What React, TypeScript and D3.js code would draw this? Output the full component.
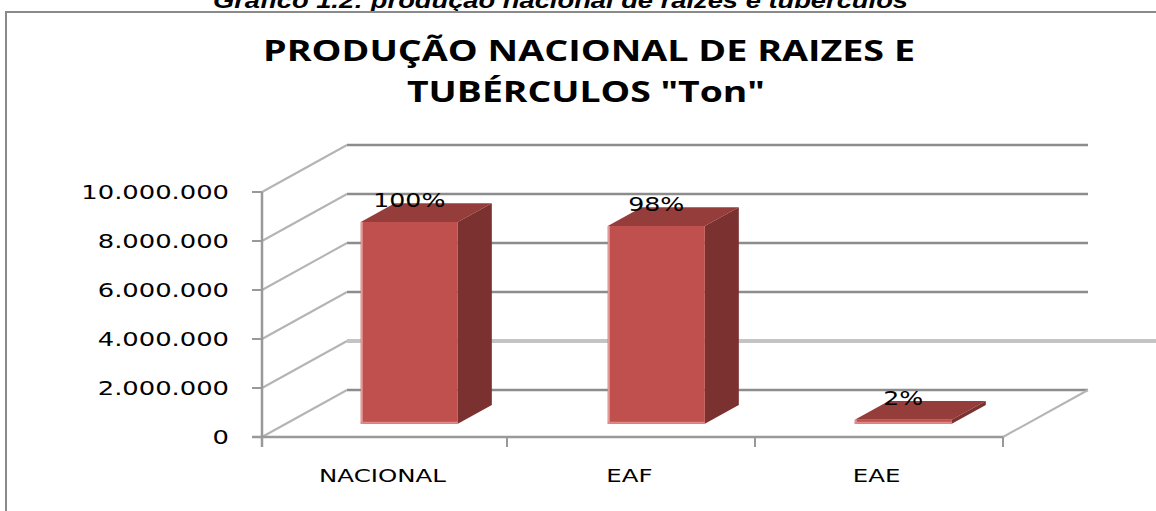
import * as d3 from 'd3';

const categories = ['NACIONAL', 'EAF', 'EAE'];
const values = [8240000, 8075000, 165000];
const percentLabels = ['100%', '98%', '2%'];
const yTicks = [0, 2000000, 4000000, 6000000, 8000000, 10000000];
const yTickLabels = ['0', '2.000.000', '4.000.000', '6.000.000', '8.000.000', '10.000.000'];

const W = 1156;
const H = 511;

// 3d depth of the plot floor and of the bars
const DX = 85;
const DY = -47;
const Z0 = 0.28;
const Z1 = 0.68;

export default function App() {
  const x = d3.scaleBand().domain(categories).range([262, 1003]).padding(0);
  const y = d3.scaleLinear().domain([0, 10000000]).range([437, 192]);
  const barW = x.bandwidth() * 0.393;

  const fx = Z0 * DX;
  const fy = Z0 * DY;
  const sdx = (Z1 - Z0) * DX;
  const sdy = (Z1 - Z0) * DY;

  const line = d3.line();

  return (
    <svg width={W} height={H} style={{ position: 'absolute', left: 0, top: 0 }}>
      <rect width={W} height={H} fill="#fff" />
      <text
        x={213}
        y={8}
        fontFamily="Liberation Sans, Arial, sans-serif"
        fontWeight="bold"
        fontStyle="italic"
        fontSize={22}
        textLength={695}
        lengthAdjust="spacingAndGlyphs"
      >
        Gráfico 1.2: produção nacional de raízes e tubérculos
      </text>
      <rect x={6} y={12} width={1300} height={700} fill="none" stroke="#8a8a8a" strokeWidth={2} />

      {/* title */}
      <g fontFamily="Open Sans, sans-serif" fontWeight="bold" fontSize={29} fill="#000">
        <text x={263} y={61} textLength={652} lengthAdjust="spacingAndGlyphs">
          PRODUÇÃO NACIONAL DE RAIZES E
        </text>
        <text x={407} y={102} textLength={358} lengthAdjust="spacingAndGlyphs">
          TUBÉRCULOS "Ton"
        </text>
      </g>

      {/* back wall gridlines and side wall diagonals */}
      {yTicks.map((t) => (
        <g key={'g' + t}>
          <line
            x1={262 + DX}
            x2={1003 + DX}
            y1={y(t) + DY}
            y2={y(t) + DY}
            stroke="#8c8c8c"
            strokeWidth={2.5}
          />
          <path
            d={line([
              [262, y(t)],
              [262 + DX, y(t) + DY],
            ])!}
            stroke="#b4b4b4"
            strokeWidth={2}
            fill="none"
          />
        </g>
      ))}
      <line x1={262 + DX} x2={W} y1={y(2000000) + DY} y2={y(2000000) + DY} stroke="#c4c4c4" strokeWidth={4} />
      {/* floor right edge */}
      <path
        d={line([
          [1003, y(0)],
          [1003 + DX, y(0) + DY],
        ])!}
        stroke="#b4b4b4"
        strokeWidth={2}
        fill="none"
      />

      {/* front axes */}
      <line x1={262} x2={262} y1={y(10000000)} y2={y(0) + 10} stroke="#999" strokeWidth={2.5} />
      <line x1={252} x2={1003} y1={y(0)} y2={y(0)} stroke="#999" strokeWidth={2.5} />
      {yTicks.map((t) => (
        <line key={'t' + t} x1={252} x2={262} y1={y(t)} y2={y(t)} stroke="#999" strokeWidth={2} />
      ))}
      {[262, 507, 755, 1003].map((v) => (
        <line key={'xt' + v} x1={v} x2={v} y1={y(0)} y2={y(0) + 10} stroke="#999" strokeWidth={2} />
      ))}

      {/* y tick labels */}
      {yTicks.map((t, i) => (
        <text
          key={'yl' + t}
          transform={`translate(229,${y(t) + 7}) scale(1.29,1)`}
          textAnchor="end"
          fontFamily="DejaVu Sans, Verdana, sans-serif"
          fontSize={20}
          fill="#000"
        >
          {yTickLabels[i]}
        </text>
      ))}

      {/* bars */}
      {categories.map((c, i) => {
        const cx = x(c)! + x.bandwidth() / 2;
        const x0 = cx - barW / 2 + fx;
        const x1 = cx + barW / 2 + fx;
        const yb = y(0) + fy;
        const yt = y(values[i]) + fy;
        return (
          <g key={c}>
            <path
              d={line([
                [x0, yt],
                [x1, yt],
                [x1 + sdx, yt + sdy],
                [x0 + sdx, yt + sdy],
              ])! + 'Z'}
              fill="#953d3b"
            />
            <path
              d={line([
                [x1, yt],
                [x1 + sdx, yt + sdy],
                [x1 + sdx, yb + sdy],
                [x1, yb],
              ])! + 'Z'}
              fill="#7b3130"
            />
            <rect x={x0} y={yt} width={x1 - x0} height={yb - yt} fill="#c0504d" />
            <line x1={x0 + 1} x2={x0 + 1} y1={yt} y2={yb} stroke="#e39a98" strokeWidth={2} />
            <line x1={x0} x2={x1} y1={yb - 1} y2={yb - 1} stroke="#e08a88" strokeWidth={2} />
            <text
              transform={`translate(${(x0 + x1) / 2},${yt - 15}) scale(1.33,1)`}
              textAnchor="middle"
              fontFamily="DejaVu Sans, Verdana, sans-serif"
              fontSize={19}
              fill="#000"
            >
              {percentLabels[i]}
            </text>
          </g>
        );
      })}

      {/* category labels */}
      {categories.map((c) => (
        <text
          key={'xl' + c}
          transform={`translate(${x(c)! + x.bandwidth() / 2 - 3},482) scale(1.4,1)`}
          textAnchor="middle"
          fontFamily="DejaVu Sans, Verdana, sans-serif"
          fontSize={17.5}
          fill="#000"
        >
          {c}
        </text>
      ))}
    </svg>
  );
}
